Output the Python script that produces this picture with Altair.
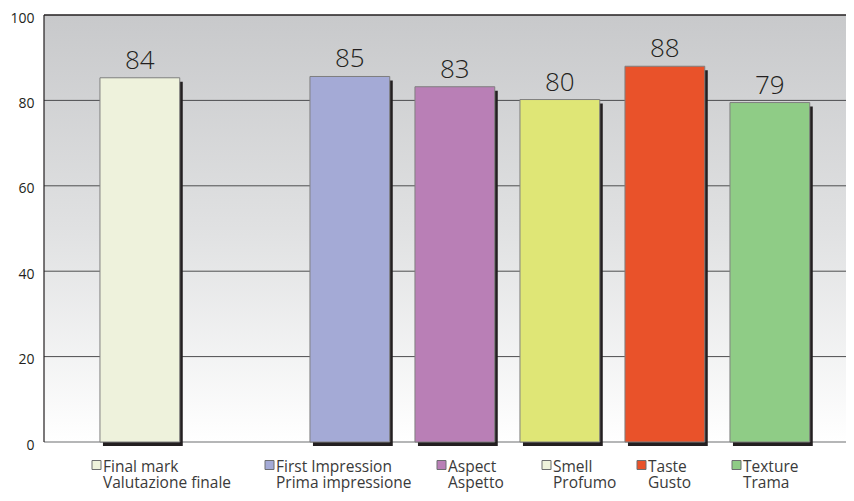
import altair as alt
import pandas as pd

# ---- data ----
CATEGORIES = ["Final mark", "First Impression", "Aspect", "Smell", "Taste", "Texture"]
ITALIAN = ["Valutazione finale", "Prima impressione", "Aspetto", "Profumo", "Gusto", "Trama"]
BAR_HEIGHTS = [85.3, 85.6, 83.2, 80.2, 88.0, 79.5]
VALUE_LABELS = ["84", "85", "83", "80", "88", "79"]
Y_TICKS = [0, 20, 40, 60, 80, 100]

# ---- styling / layout ----
SLOTS = ["Final mark", " ", "First Impression", "Aspect", "Smell", "Taste", "Texture"]
BAR_COLORS = ["#eef2dc", "#a4aad6", "#b97fb6", "#dfe676", "#e9522a", "#8fcc86"]
LEGEND_COLORS = ["#eef2dc", "#a4aad6", "#b97fb6", "#eef2dc", "#e9522a", "#8fcc86"]
LEGEND_LEFT = [48, 221, 393, 498, 593, 688]
FONT = "Open Sans"
W, H = 802, 427
PAD_L, PAD_T, PAD_B = 36, 7, 51

df = pd.DataFrame({"cat": CATEGORIES, "value": BAR_HEIGHTS, "label": VALUE_LABELS})

x_scale = alt.Scale(type="band", domain=SLOTS, paddingInner=0.24, paddingOuter=0.439, align=0.607)
y_scale = alt.Scale(domain=[0, 100], nice=False, zero=True)
y_axis = alt.Axis(values=Y_TICKS, ticks=False, domain=False, grid=False,
                  labelPadding=10, labelFontSize=14, labelColor="#231f20",
                  labelFont=FONT, labelOffset=3, title=None)

x_enc = alt.X("cat:N", scale=x_scale, axis=None, title=None)


def yq(field):
    return alt.Y(field, scale=y_scale, axis=y_axis, title=None)


gradient = alt.Gradient(
    gradient="linear",
    stops=[alt.GradientStop(color="#c8c9cb", offset=0),
           alt.GradientStop(color="#e0e1e2", offset=0.5),
           alt.GradientStop(color="#ffffff", offset=1)],
    x1=0, x2=0, y1=0, y2=1,
)

bg = alt.Chart(pd.DataFrame({"a": [0]})).mark_rect(color=gradient).encode(
    x=alt.value(0), x2=alt.value(W), y=alt.value(0), y2=alt.value(H)
)

grid = alt.Chart(pd.DataFrame({"value": Y_TICKS[1:-1]})).mark_rule(color="#4d4d4f", strokeWidth=1).encode(
    y=yq("value:Q"), x=alt.value(0), x2=alt.value(W)
)
top_line = alt.Chart(pd.DataFrame({"value": [Y_TICKS[-1]]})).mark_rule(color="#231f20", strokeWidth=1.5).encode(
    y=yq("value:Q"), x=alt.value(0), x2=alt.value(W)
)
zero_line = alt.Chart(pd.DataFrame({"value": [Y_TICKS[0]]})).mark_rule(color="#6d6e71", strokeWidth=1.2).encode(
    y=yq("value:Q"), x=alt.value(0), x2=alt.value(W)
)
left_line = alt.Chart(pd.DataFrame({"a": [0]})).mark_rule(color="#231f20", strokeWidth=1.2).encode(
    x=alt.value(0), y=alt.value(0), y2=alt.value(H)
)

shadow = alt.Chart(df).mark_bar(color="#231f20", xOffset=3, x2Offset=3, yOffset=4, y2Offset=4).encode(
    x=x_enc, y=yq("value:Q")
)

bars = alt.Chart(df).mark_bar(stroke="#7f7f7f", strokeWidth=1, opacity=1).encode(
    x=x_enc, y=yq("value:Q"),
    color=alt.Color("cat:N", scale=alt.Scale(domain=CATEGORIES, range=BAR_COLORS), legend=None),
)

labels = alt.Chart(df).mark_text(dy=-9, baseline="alphabetic", fontSize=26, font=FONT,
                                 fontWeight=300, color="#231f20").encode(
    x=x_enc, y=yq("value:Q"), text="label:N"
)

leg_df = pd.DataFrame({
    "en": CATEGORIES,
    "it": ITALIAN,
    "col": LEGEND_COLORS,
    "sx": [v + 4.5 for v in LEGEND_LEFT],
    "tx": [v + 11 for v in LEGEND_LEFT],
})

leg_sym = alt.Chart(leg_df).mark_square(size=81, stroke="#6d6e71", strokeWidth=1, opacity=1).encode(
    x=alt.X("sx:Q", scale=None, axis=None), y=alt.value(H + 23),
    fill=alt.Fill("col:N", scale=None, legend=None),
)
leg_txt1 = alt.Chart(leg_df).mark_text(align="left", baseline="alphabetic",
                                       fontSize=15.5, font=FONT, color="#3a3a3a").encode(
    x=alt.X("tx:Q", scale=None, axis=None), y=alt.value(H + 30), text="en:N"
)
leg_txt2 = alt.Chart(leg_df).mark_text(align="left", baseline="alphabetic",
                                       fontSize=15.5, font=FONT, color="#3a3a3a").encode(
    x=alt.X("tx:Q", scale=None, axis=None), y=alt.value(H + 46), text="it:N"
)

chart = alt.layer(
    bg, grid, zero_line, shadow, bars, labels, top_line, left_line, leg_sym, leg_txt1, leg_txt2
).resolve_scale(x="independent", color="independent").properties(
    width=W, height=H,
    autosize=alt.AutoSizeParams(type="none"),
    padding={"left": PAD_L, "top": PAD_T, "right": 0, "bottom": PAD_B},
    background="white",
).configure_view(stroke=None)

chart.save("out.html", embed_options={"renderer": "svg", "actions": False})
